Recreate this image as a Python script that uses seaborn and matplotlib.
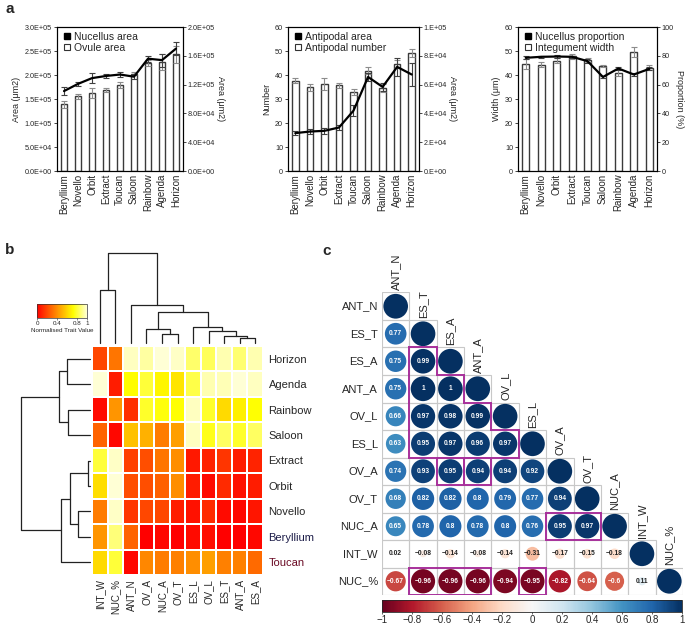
import numpy as np
import pandas as pd
import matplotlib
matplotlib.use('Agg')
import matplotlib.pyplot as plt
import matplotlib.ticker as mticker
from matplotlib.colors import LinearSegmentedColormap, ListedColormap, Normalize
from matplotlib.cm import ScalarMappable
from matplotlib.lines import Line2D
from matplotlib.patches import Circle, Rectangle
from matplotlib.collections import LineCollection
import seaborn as sns

sns.set_style('ticks')
plt.rcParams['font.family'] = ['Liberation Sans', 'DejaVu Sans']
plt.rcParams['axes.linewidth'] = 0.8

# ---------------- data: panel a ----------------
cultivars = ['Beryllium', 'Novello', 'Orbit', 'Extract', 'Toucan', 'Saloon', 'Rainbow', 'Agenda', 'Horizon']

ovule_area = [1.39e5, 1.56e5, 1.63e5, 1.68e5, 1.79e5, 2.03e5, 2.25e5, 2.27e5, 2.43e5]
ovule_area_err = [0.07e5, 0.05e5, 0.10e5, 0.04e5, 0.06e5, 0.04e5, 0.06e5, 0.17e5, 0.17e5]
nucellus_area = [1.11e5, 1.21e5, 1.29e5, 1.32e5, 1.34e5, 1.31e5, 1.56e5, 1.54e5, 1.70e5]
nucellus_area_err = [0.05e5, 0.03e5, 0.07e5, 0.03e5, 0.04e5, 0.03e5, 0.04e5, 0.09e5, 0.09e5]

antipodal_number = [37.7, 34.9, 36.4, 35.7, 32.8, 41.8, 34.6, 44.6, 49.2]
antipodal_number_err = [1.0, 1.5, 2.5, 1.0, 1.2, 1.5, 1.5, 1.5, 1.5]
antipodal_area = [2.63e4, 2.74e4, 2.79e4, 3.02e4, 4.19e4, 6.53e4, 5.84e4, 7.23e4, 6.70e4]
antipodal_area_err = [0.15e4, 0.15e4, 0.2e4, 0.2e4, 0.4e4, 0.3e4, 0.3e4, 0.6e4, 0.8e4]

integument_width = [44.6, 44.3, 46.0, 47.8, 46.2, 43.7, 40.9, 49.5, 43.0]
integument_width_err = [2.0, 1.0, 1.2, 1.0, 0.8, 0.5, 1.5, 2.0, 1.0]
nucellus_prop = [78.6, 79.3, 79.5, 79.3, 76.3, 65.3, 71.2, 67.0, 70.9]
nucellus_prop_err = [1.0, 0.8, 0.8, 0.8, 1.2, 1.0, 1.0, 1.0, 1.0]

# ---------------- data: panel b ----------------
hm_rows = ['Horizon', 'Agenda', 'Rainbow', 'Saloon', 'Extract', 'Orbit', 'Novello', 'Beryllium', 'Toucan']
hm_cols = ['INT_W', 'NUC_%', 'ANT_N', 'OV_A', 'NUC_A', 'OV_T', 'ES_L', 'OV_L', 'ES_T', 'ANT_A', 'ES_A']
hm_horizon = [0.20, 0.33, 0.97, 0.93, 1.00, 0.98, 0.86, 0.84, 0.95, 0.87, 0.95]
hm_agenda = [1.00, 0.08, 0.72, 0.80, 0.70, 0.65, 0.82, 0.95, 0.96, 1.00, 0.97]
hm_rainbow = [0.03, 0.42, 0.13, 0.78, 0.74, 0.73, 0.97, 0.78, 0.62, 0.68, 0.73]
hm_saloon = [0.28, 0.02, 0.55, 0.50, 0.35, 0.45, 0.97, 0.76, 0.85, 0.78, 0.85]
hm_extract = [0.80, 0.98, 0.18, 0.22, 0.33, 0.40, 0.07, 0.10, 0.15, 0.08, 0.10]
hm_orbit = [0.63, 1.00, 0.22, 0.22, 0.27, 0.40, 0.08, 0.03, 0.12, 0.05, 0.08]
hm_novello = [0.35, 0.98, 0.15, 0.20, 0.20, 0.08, 0.05, 0.12, 0.03, 0.02, 0.06]
hm_beryllium = [0.42, 0.88, 0.28, 0.00, 0.02, 0.00, 0.03, 0.04, 0.00, 0.00, 0.02]
hm_toucan = [0.62, 0.80, 0.02, 0.38, 0.35, 0.36, 0.40, 0.45, 0.36, 0.36, 0.30]

# dendrograms: (left, right, merge height)
col_tree = (('INT_W', 'NUC_%', 158),
            ('ANT_N',
             (('OV_A', ('NUC_A', 'OV_T', 26), 42),
              ('ES_L', ('OV_L', ('ES_T', ('ANT_A', 'ES_A', 16), 20), 35), 48),
              92),
             115),
            270)
row_tree = ((('Horizon', 'Agenda', 70), ('Rainbow', 'Saloon', 65), 93),
            ((('Extract', 'Orbit', 5), ('Novello', 'Beryllium', 35), 60), 'Toucan', 88),
            207)

# ---------------- data: panel c ----------------
corr_vars = ['ANT_N', 'ES_T', 'ES_A', 'ANT_A', 'OV_L', 'ES_L', 'OV_A', 'OV_T', 'NUC_A', 'INT_W', 'NUC_%']
corr_lower = [
    [],
    [0.77],
    [0.75, 0.99],
    [0.75, 1, 1],
    [0.66, 0.97, 0.98, 0.99],
    [0.63, 0.95, 0.97, 0.96, 0.97],
    [0.74, 0.93, 0.95, 0.94, 0.94, 0.92],
    [0.68, 0.82, 0.82, 0.8, 0.79, 0.77, 0.94],
    [0.65, 0.78, 0.8, 0.78, 0.8, 0.76, 0.95, 0.97],
    [0.02, -0.08, -0.14, -0.08, -0.14, -0.31, -0.17, -0.15, -0.18],
    [-0.67, -0.96, -0.96, -0.96, -0.94, -0.95, -0.82, -0.64, -0.6, 0.11],
]
# highlighted groups of cells (row, col)
box_groups = [
    [(2, 1), (3, 1), (3, 2), (4, 1), (4, 2), (4, 3), (5, 1), (5, 2), (5, 3), (5, 4)],
    [(6, 2)],
    [(6, 3)],
    [(8, 6), (8, 7)],
    [(10, 1), (10, 2), (10, 3)],
    [(10, 5)],
]

W, H = 685, 627
fig = plt.figure(figsize=(W / 100, H / 100), dpi=100)


def rect(x0, y0, x1, y1):
    return [x0 / W, 1 - y1 / H, (x1 - x0) / W, (y1 - y0) / H]


def sci1(v, pos):
    return f'{v:.1E}'


def sci0(v, pos):
    s = f'{v:.0E}'
    return s[0] + '.' + s[1:]


def dual_panel(r, bars, bars_err, line, line_err, lmax, lstep, rmax, rstep,
               lfmt, rfmt, llab, rlab, line_name, bar_name):
    ax = fig.add_axes(r)
    sns.barplot(x=cultivars, y=bars, ax=ax, color='white', saturation=1,
                edgecolor='#3a3a3a', linewidth=1.0, width=0.45, errorbar=None)
    ax.errorbar(np.arange(len(cultivars)), bars, yerr=bars_err, fmt='none',
                ecolor='#8c8c8c', elinewidth=0.8, capsize=2, capthick=0.8)
    ax.set_xlim(-0.5, len(cultivars) - 0.5)
    ax.set_ylim(0, lmax)
    ax.set_yticks(np.arange(0, lmax + lstep / 2, lstep))
    if lfmt is not None:
        ax.yaxis.set_major_formatter(mticker.FuncFormatter(lfmt))
    ax.tick_params(axis='y', labelsize=5.2, length=2, width=0.6, pad=1.5)
    ax.tick_params(axis='x', labelsize=7, length=0, rotation=90, pad=2)
    ax.set_ylabel(llab, fontsize=6.5, labelpad=3)
    ax.set_xlabel('')

    ax2 = ax.twinx()
    ax2.errorbar(np.arange(len(cultivars)), line, yerr=line_err, color='black', lw=1.6,
                 ecolor='#404040', elinewidth=0.8, capsize=2, capthick=0.8)
    ax2.set_ylim(0, rmax)
    ax2.set_yticks(np.arange(0, rmax + rstep / 2, rstep))
    if rfmt is not None:
        ax2.yaxis.set_major_formatter(mticker.FuncFormatter(rfmt))
    ax2.tick_params(axis='y', labelsize=5.2, length=2, width=0.6, pad=1.5)
    ax2.set_ylabel(rlab, fontsize=6.5, rotation=270, labelpad=7)
    for a in (ax, ax2):
        for s in a.spines.values():
            s.set_linewidth(0.8)
            s.set_color('black')

    handles = [Line2D([], [], marker='s', color='black', linestyle='none', markersize=4.5),
               Line2D([], [], marker='s', markerfacecolor='white', markeredgecolor='#333333',
                      linestyle='none', markersize=4.5, markeredgewidth=0.8)]
    ax2.legend(handles, [line_name, bar_name], loc='upper left', frameon=False, fontsize=7.5,
               handletextpad=0.2, borderaxespad=0.25, labelspacing=0.12,
               handlelength=1.0, borderpad=0.2)
    return ax, ax2


dual_panel(rect(57, 27, 183, 171), ovule_area, ovule_area_err, nucellus_area, nucellus_area_err,
           3.0e5, 0.5e5, 2.0e5, 0.4e5, sci1, sci1, 'Area (μm2)', 'Area (μm2)',
           'Nucellus area', 'Ovule area')
dual_panel(rect(288, 27, 419, 171), antipodal_number, antipodal_number_err, antipodal_area,
           antipodal_area_err, 60, 10, 1.0e5, 0.2e5, None, sci0, 'Number', 'Area (μm2)',
           'Antipodal area', 'Antipodal number')
dual_panel(rect(518, 27, 657, 171), integument_width, integument_width_err, nucellus_prop,
           nucellus_prop_err, 60, 10, 100, 20, None, None, 'Width (μm)', 'Proportion (%)',
           'Nucellus proportion', 'Integument width')

# ---------------- panel b ----------------
hm_df = pd.DataFrame([hm_horizon, hm_agenda, hm_rainbow, hm_saloon, hm_extract, hm_orbit,
                      hm_novello, hm_beryllium, hm_toucan], index=hm_rows, columns=hm_cols)
heat_cmap = LinearSegmentedColormap.from_list(
    'heat', [(0, '#FF0000'), (0.36, '#FF8000'), (0.727, '#FFFF00'), (1, '#FFFFD5')])

hm_ax = fig.add_axes(rect(92, 346, 263, 575))
cb_ax = fig.add_axes(rect(37, 304, 87, 318))
sns.heatmap(hm_df, ax=hm_ax, cmap=heat_cmap, vmin=0, vmax=1, linewidths=1.1, linecolor='white',
            cbar_ax=cb_ax, cbar_kws={'orientation': 'horizontal', 'ticks': [0, 0.4, 0.8, 1]})
hm_ax.yaxis.tick_right()
hm_ax.tick_params(axis='y', labelrotation=0, length=0, labelsize=8, pad=4)
hm_ax.tick_params(axis='x', labelrotation=90, length=0, labelsize=7, pad=3)
hm_ax.set_xlabel('')
hm_ax.set_ylabel('')
for lab in hm_ax.get_yticklabels():
    if lab.get_text() == 'Beryllium':
        lab.set_color('#1c1c48')
    elif lab.get_text() == 'Toucan':
        lab.set_color('#6a0a24')

cb = hm_ax.collections[0].colorbar
cb.outline.set_linewidth(0.5)
cb.outline.set_edgecolor('#333333')
cb_ax.xaxis.set_major_formatter(mticker.FuncFormatter(lambda v, p: f'{v:g}'))
cb_ax.tick_params(labelsize=4.5, length=1.5, width=0.4, pad=1)
cb_ax.set_xlabel('Normalised Trait Value', fontsize=4.5, labelpad=1)


def draw_tree(ax, node, pos, orient):
    if isinstance(node, str):
        return pos[node], 0.0
    left, right, h = node
    c1, h1 = draw_tree(ax, left, pos, orient)
    c2, h2 = draw_tree(ax, right, pos, orient)
    if orient == 'top':
        ax.plot([c1, c1, c2, c2], [h1, h, h, h2], color='#222222', lw=0.9, clip_on=False)
    else:
        ax.plot([h1, h, h, h2], [c1, c1, c2, c2], color='#222222', lw=0.9, clip_on=False)
    return (c1 + c2) / 2, h


col_dax = fig.add_axes(rect(92, 253, 263, 343))
draw_tree(col_dax, col_tree, {c: i + 0.5 for i, c in enumerate(hm_cols)}, 'top')
col_dax.set_xlim(0, len(hm_cols))
col_dax.set_ylim(0, col_tree[2])
col_dax.axis('off')

row_dax = fig.add_axes(rect(21, 346, 90, 575))
draw_tree(row_dax, row_tree, {r: i + 0.5 for i, r in enumerate(hm_rows)}, 'left')
row_dax.set_ylim(len(hm_rows), 0)
row_dax.set_xlim(row_tree[2], 0)
row_dax.axis('off')

# ---------------- panel c ----------------
n = len(corr_vars)
corr = np.eye(n)
for i, row in enumerate(corr_lower):
    for j, v in enumerate(row):
        corr[i, j] = v
        corr[j, i] = v
corr_df = pd.DataFrame(corr, index=corr_vars, columns=corr_vars)

c_ax = fig.add_axes(rect(382, 292.5, 683, 595))
mask = np.triu(np.ones((n, n), dtype=bool), k=1)
sns.heatmap(corr_df, mask=mask, cmap=ListedColormap(['white']), cbar=False, linewidths=0,
            ax=c_ax, xticklabels=False, yticklabels=False)
rdbu = plt.get_cmap('RdBu')
for i in range(n):
    for j in range(i + 1):
        r = corr[i, j]
        c_ax.add_patch(Rectangle((j, i), 1, 1, fill=False, edgecolor='#c8c8c8', lw=0.8, zorder=2))
        c_ax.add_patch(Circle((j + 0.5, i + 0.5), 0.45 * np.sqrt(abs(r)),
                              facecolor=rdbu((r + 1) / 2), edgecolor='none', zorder=3))
        if i != j:
            txt = f'{r:g}'.replace('-', '\u2212')
            c_ax.text(j + 0.5, i + 0.5, txt, ha='center', va='center', fontsize=4.8,
                      fontweight='bold', color='white' if abs(r) > 0.4 else '#222222', zorder=4)
for i, v in enumerate(corr_vars):
    c_ax.text(-0.15, i + 0.5, v, ha='right', va='center', fontsize=8)
    c_ax.text(i + 0.5, i - 0.08, v, ha='center', va='bottom', rotation=90, fontsize=8)

segs = []
for grp in box_groups:
    cells = set(grp)
    for (i, j) in grp:
        if (i - 1, j) not in cells:
            segs.append([(j, i), (j + 1, i)])
        if (i + 1, j) not in cells:
            segs.append([(j, i + 1), (j + 1, i + 1)])
        if (i, j - 1) not in cells:
            segs.append([(j, i), (j, i + 1)])
        if (i, j + 1) not in cells:
            segs.append([(j + 1, i), (j + 1, i + 1)])
c_ax.add_collection(LineCollection(segs, colors='#a8319b', linewidths=1.4, zorder=5,
                                   capstyle='projecting'))

cbc_ax = fig.add_axes(rect(382, 600, 682, 612))
cbc = fig.colorbar(ScalarMappable(norm=Normalize(-1, 1), cmap=rdbu), cax=cbc_ax,
                   orientation='horizontal', ticks=np.round(np.arange(-1, 1.01, 0.2), 1))
cbc.outline.set_linewidth(0.6)
cbc_ax.xaxis.set_major_formatter(
    mticker.FuncFormatter(lambda v, p: f'{round(v, 1) + 0:g}'.replace('-', '\u2212')))
cbc_ax.tick_params(labelsize=7, length=1.5, width=0.5, pad=1)

# panel letters
fig.text(5 / W, 1 - 9 / H, 'a', fontsize=11, fontweight='bold', va='center')
fig.text(5 / W, 1 - 250 / H, 'b', fontsize=11, fontweight='bold', va='center')
fig.text(322 / W, 1 - 251 / H, 'c', fontsize=11, fontweight='bold', va='center')

fig.savefig('out.png', dpi=100)
